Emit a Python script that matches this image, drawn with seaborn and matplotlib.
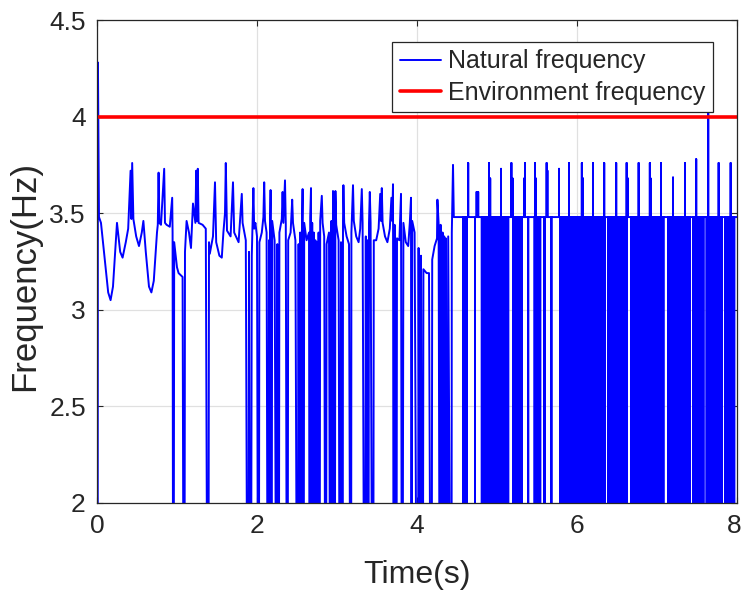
import numpy as np
import pandas as pd
import matplotlib
matplotlib.use("Agg")
import matplotlib.pyplot as plt
import matplotlib.transforms as mtransforms
import seaborn as sns

# ---------------- data ----------------
# slowly varying part of the natural frequency, 0 - 4.5 s (0.0 = drop off the axis)
t_a = [0.0, 0.004, 0.012, 0.025, 0.05, 0.10, 0.14, 0.17, 0.20, 0.25, 0.29, 0.32, 0.36, 0.39,
       0.42, 0.43, 0.44, 0.455, 0.49, 0.525, 0.56, 0.58, 0.61, 0.65, 0.68, 0.71, 0.75, 0.76,
       0.77, 0.78, 0.80, 0.84, 0.85, 0.87, 0.91, 0.94, 0.945, 0.955, 0.965, 1.00]
f_a = [4.60, 0.00, 4.28, 3.48, 3.45, 3.25, 3.09, 3.05, 3.12, 3.45, 3.30, 3.27, 3.35, 3.42,
       3.72, 3.47, 3.76, 3.47, 3.38, 3.33, 3.40, 3.46, 3.30, 3.12, 3.09, 3.15, 3.40, 3.44,
       3.71, 3.45, 3.44, 3.73, 3.45, 3.44, 3.43, 3.58, 3.40, 0.00, 3.35, 3.22]

t_b = [1.02, 1.07, 1.09, 1.10, 1.12, 1.15, 1.175, 1.20, 1.23, 1.24, 1.25, 1.26, 1.27, 1.32,
       1.36, 1.39, 1.40, 1.41, 1.45, 1.475, 1.49, 1.53, 1.56, 1.58, 1.60, 1.61, 1.625, 1.67,
       1.70, 1.715, 1.77, 1.81, 1.82, 1.86, 1.89, 1.90, 1.92, 1.935, 1.955, 1.965, 1.98]
f_b = [3.19, 3.17, 0.00, 3.30, 3.46, 3.40, 3.32, 3.55, 3.45, 3.72, 3.46, 3.73, 3.45, 3.44,
       3.42, 0.00, 3.35, 3.29, 3.38, 3.66, 3.35, 3.28, 3.27, 3.40, 3.50, 3.76, 3.41, 3.38,
       3.66, 3.40, 3.35, 3.60, 3.45, 3.36, 0.00, 3.30, 0.00, 3.28, 3.63, 3.42, 3.45]

t_c = [2.00, 2.02, 2.03, 2.06, 2.08, 2.09, 2.10, 2.12, 2.14, 2.15, 2.16, 2.165, 2.17, 2.18,
       2.19, 2.22, 2.25, 2.255, 2.27, 2.28, 2.31, 2.32, 2.33, 2.35, 2.36, 2.38, 2.39, 2.42,
       2.44, 2.45, 2.48, 2.51, 2.52, 2.53, 2.54, 2.56, 2.565, 2.57, 2.58, 2.59, 2.62, 2.65,
       2.66, 2.665, 2.675, 2.68, 2.69, 2.70, 2.71, 2.72, 2.73, 2.74, 2.75, 2.76, 2.77, 2.78,
       2.79, 2.81, 2.82, 2.84, 2.86, 2.87, 2.90, 2.92, 2.93, 2.94, 2.95, 2.96, 2.97, 2.98, 2.99]
f_c = [3.38, 0.00, 3.35, 3.40, 3.48, 3.66, 3.46, 3.40, 0.00, 3.36, 0.00, 3.42, 3.62, 0.00,
       3.46, 3.36, 0.00, 3.34, 0.00, 3.40, 3.47, 3.61, 3.45, 3.67, 3.44, 0.00, 3.36, 3.40,
       3.57, 3.45, 3.36, 0.00, 3.34, 0.00, 3.40, 0.00, 3.46, 3.625, 0.00, 3.45, 3.36, 3.40,
       0.00, 3.48, 3.63, 0.00, 3.45, 0.00, 3.40, 0.00, 3.36, 0.00, 3.35, 0.00, 3.40, 0.00,
       3.46, 3.59, 3.45, 3.38, 0.00, 3.34, 3.40, 0.00, 3.46, 0.00, 3.615, 3.45, 0.00, 3.615, 3.44]

t_d = [3.02, 3.04, 3.05, 3.07, 3.075, 3.08, 3.09, 3.12, 3.15, 3.175, 3.18, 3.20, 3.21, 3.24,
       3.27, 3.29, 3.31, 3.32, 3.35, 3.36, 3.37, 3.38, 3.39, 3.40, 3.41, 3.42, 3.45, 3.46,
       3.49, 3.52, 3.54, 3.55, 3.56, 3.57, 3.60, 3.63, 3.66, 3.68, 3.69, 3.70, 3.71, 3.72,
       3.74, 3.75, 3.78, 3.80, 3.815, 3.83, 3.86, 3.89, 3.91, 3.925, 3.93, 3.94, 3.97, 4.01,
       4.02, 4.04, 4.05, 4.07, 4.08, 4.12, 4.15, 4.18, 4.19, 4.22, 4.25, 4.255, 4.27, 4.29,
       4.295, 4.31, 4.32, 4.33, 4.34, 4.35, 4.36, 4.37, 4.39, 4.43, 4.435, 4.45, 4.46]
f_d = [3.36, 0.00, 3.35, 0.00, 3.46, 3.645, 3.45, 3.38, 3.34, 0.00, 3.40, 3.645, 3.46, 3.38,
       3.35, 3.42, 3.625, 3.45, 0.00, 3.38, 0.00, 3.36, 0.00, 3.45, 3.61, 3.45, 0.00, 3.36,
       3.36, 3.42, 3.60, 3.46, 3.63, 3.45, 3.38, 3.35, 3.42, 3.58, 3.46, 3.65, 0.00, 3.44,
       0.00, 3.37, 3.36, 3.60, 0.00, 3.45, 3.35, 3.33, 3.45, 3.58, 0.00, 3.46, 3.40, 0.00,
       3.32, 0.00, 3.28, 0.00, 3.21, 3.19, 3.19, 0.00, 3.26, 3.33, 3.37, 3.57, 3.45, 0.00,
       3.44, 0.00, 3.40, 0.00, 3.38, 0.00, 3.37, 0.00, 3.38, 0.00, 3.40, 3.75, 3.48]

# after 4.5 s: a flat level with narrow spikes and drops
base_late = 3.48
spike_late_t = [4.64, 4.745, 4.765, 4.90, 4.915, 5.05, 5.18, 5.195, 5.34, 5.35, 5.475, 5.485,
                5.62, 5.63, 5.775, 5.90, 6.06, 6.075, 6.20, 6.34, 6.49, 6.62, 6.635, 6.77,
                6.91, 6.92, 7.05, 7.20, 7.35, 7.49, 7.64, 7.77, 7.92]
spike_late_f = [3.76, 3.61, 3.61, 3.76, 3.68, 3.73, 3.76, 3.68, 3.68, 3.76, 3.76, 3.68,
                3.76, 3.72, 3.73, 3.76, 3.76, 3.68, 3.76, 3.76, 3.76, 3.76, 3.68, 3.76,
                3.76, 3.68, 3.76, 3.685, 3.76, 3.78, 4.05, 3.76, 3.76]
drop_late_t = [4.575, 4.59, 4.62, 4.725,
               4.81, 4.824, 4.838, 4.852, 4.866, 4.88, 4.894, 4.908, 4.922, 4.936, 4.95,
               4.964, 4.978, 4.992, 5.006, 5.02, 5.034, 5.048, 5.062, 5.076, 5.09, 5.104,
               5.118, 5.132, 5.14,
               5.20, 5.214, 5.228, 5.25, 5.27, 5.29, 5.31, 5.39,
               5.47, 5.49, 5.505, 5.52, 5.54, 5.59, 5.60, 5.68,
               5.79, 5.805, 5.82, 5.84, 5.855, 5.87, 5.885, 5.905, 5.92, 5.935, 5.95, 5.965,
               5.98, 5.995, 6.01, 6.025, 6.04, 6.07, 6.085, 6.10, 6.115, 6.13, 6.14,
               6.16, 6.175, 6.19, 6.21, 6.23, 6.25, 6.27, 6.285, 6.30, 6.315, 6.33, 6.35,
               6.39, 6.405, 6.42, 6.435, 6.45, 6.465, 6.48, 6.50, 6.515, 6.53, 6.545, 6.56,
               6.575, 6.59, 6.605, 6.62,
               6.68, 6.695, 6.71, 6.73, 6.755, 6.78, 6.80, 6.815, 6.83, 6.845, 6.86, 6.875,
               6.89, 6.905, 6.92, 6.935, 6.95,
               6.975, 6.99, 7.005, 7.02, 7.035, 7.065, 7.08,
               7.14, 7.155, 7.17, 7.19, 7.21, 7.23, 7.25, 7.27, 7.285, 7.30, 7.32, 7.34,
               7.36, 7.375, 7.39, 7.41,
               7.455, 7.47, 7.485, 7.50, 7.515, 7.53, 7.545, 7.56, 7.58,
               7.62, 7.655, 7.67, 7.69, 7.71, 7.725, 7.74, 7.755, 7.78, 7.795, 7.81,
               7.85, 7.865, 7.88, 7.895, 7.91, 7.925, 7.94, 7.955, 7.965]
drop_level = 0.0
t_end = 8.0

# environment frequency
env_t = [0.0, 8.0]
env_f = [4.0, 4.0]

xticks = [0, 2, 4, 6, 8]
yticks = [2, 2.5, 3, 3.5, 4, 4.5]
ytick_labels = ["2", "2.5", "3", "3.5", "4", "4.5"]

# ---------------- build the series ----------------
t_early = t_a + t_b + t_c + t_d
f_early = f_a + f_b + f_c + f_d
assert len(t_early) == len(f_early)
assert len(spike_late_t) == len(spike_late_f)

events = [(t, f) for t, f in zip(spike_late_t, spike_late_f)] + \
         [(t, drop_level) for t in drop_late_t]
events.sort()
t_late, f_late = [], []
for t, f in events:
    t_late += [t, t, t]
    f_late += [base_late, f, base_late]
t_late.append(t_end)
f_late.append(base_late)

nat = pd.DataFrame({"t": t_early + t_late, "f": f_early + f_late})
env = pd.DataFrame({"t": env_t, "f": env_f})

# ---------------- plot ----------------
sns.set_theme(style="ticks")
plt.rcParams["font.family"] = ["Liberation Sans", "DejaVu Sans"]

fig = plt.figure(figsize=(7.42, 5.94), dpi=100)
ax = fig.add_axes([0.1307, 0.1532, 0.8626, 0.8131])

sns.lineplot(data=nat, x="t", y="f", sort=False, estimator=None, color="#0000ff",
             lw=1.4, ax=ax, label="Natural frequency", zorder=3)
sns.lineplot(data=env, x="t", y="f", sort=False, estimator=None, color="#ff0000",
             lw=2.6, ax=ax, label="Environment frequency", zorder=4)

ax.set_xlim(0, 8)
ax.set_ylim(2, 4.5)
ax.set_xticks(xticks)
ax.set_yticks(yticks)
ax.set_yticklabels(ytick_labels)
ax.grid(True, color="#e0e0e0", lw=0.9, zorder=0)
ax.set_axisbelow(True)
for sp in ax.spines.values():
    sp.set_color("#262626")
    sp.set_linewidth(0.9)
    sp.set_zorder(5)
ax.tick_params(direction="in", length=4, width=0.8, colors="#262626",
               labelsize=19, pad=8, top=True, right=True)
ax.set_xlabel("Time(s)", fontsize=23, color="#262626", labelpad=16)
ax.set_ylabel("Frequency(Hz)", fontsize=25, color="#262626")
ax.yaxis.set_label_coords(-0.088, 0.47)

# keep the last x tick label inside the canvas
fig.canvas.draw()
last = ax.get_xticklabels()[-1]
last.set_transform(last.get_transform() +
                   mtransforms.ScaledTranslation(-3 / 100, 0, fig.dpi_scale_trans))

leg = ax.legend(loc="upper right", bbox_to_anchor=(0.9625, 0.9545), borderaxespad=0,
                fontsize=18, frameon=True, fancybox=False, framealpha=1,
                edgecolor="#262626", handlelength=1.65, handletextpad=0.3,
                labelspacing=0.3, borderpad=0.3)
leg.get_frame().set_linewidth(0.9)
leg.set_zorder(10)

fig.savefig("out.png", dpi=100)
